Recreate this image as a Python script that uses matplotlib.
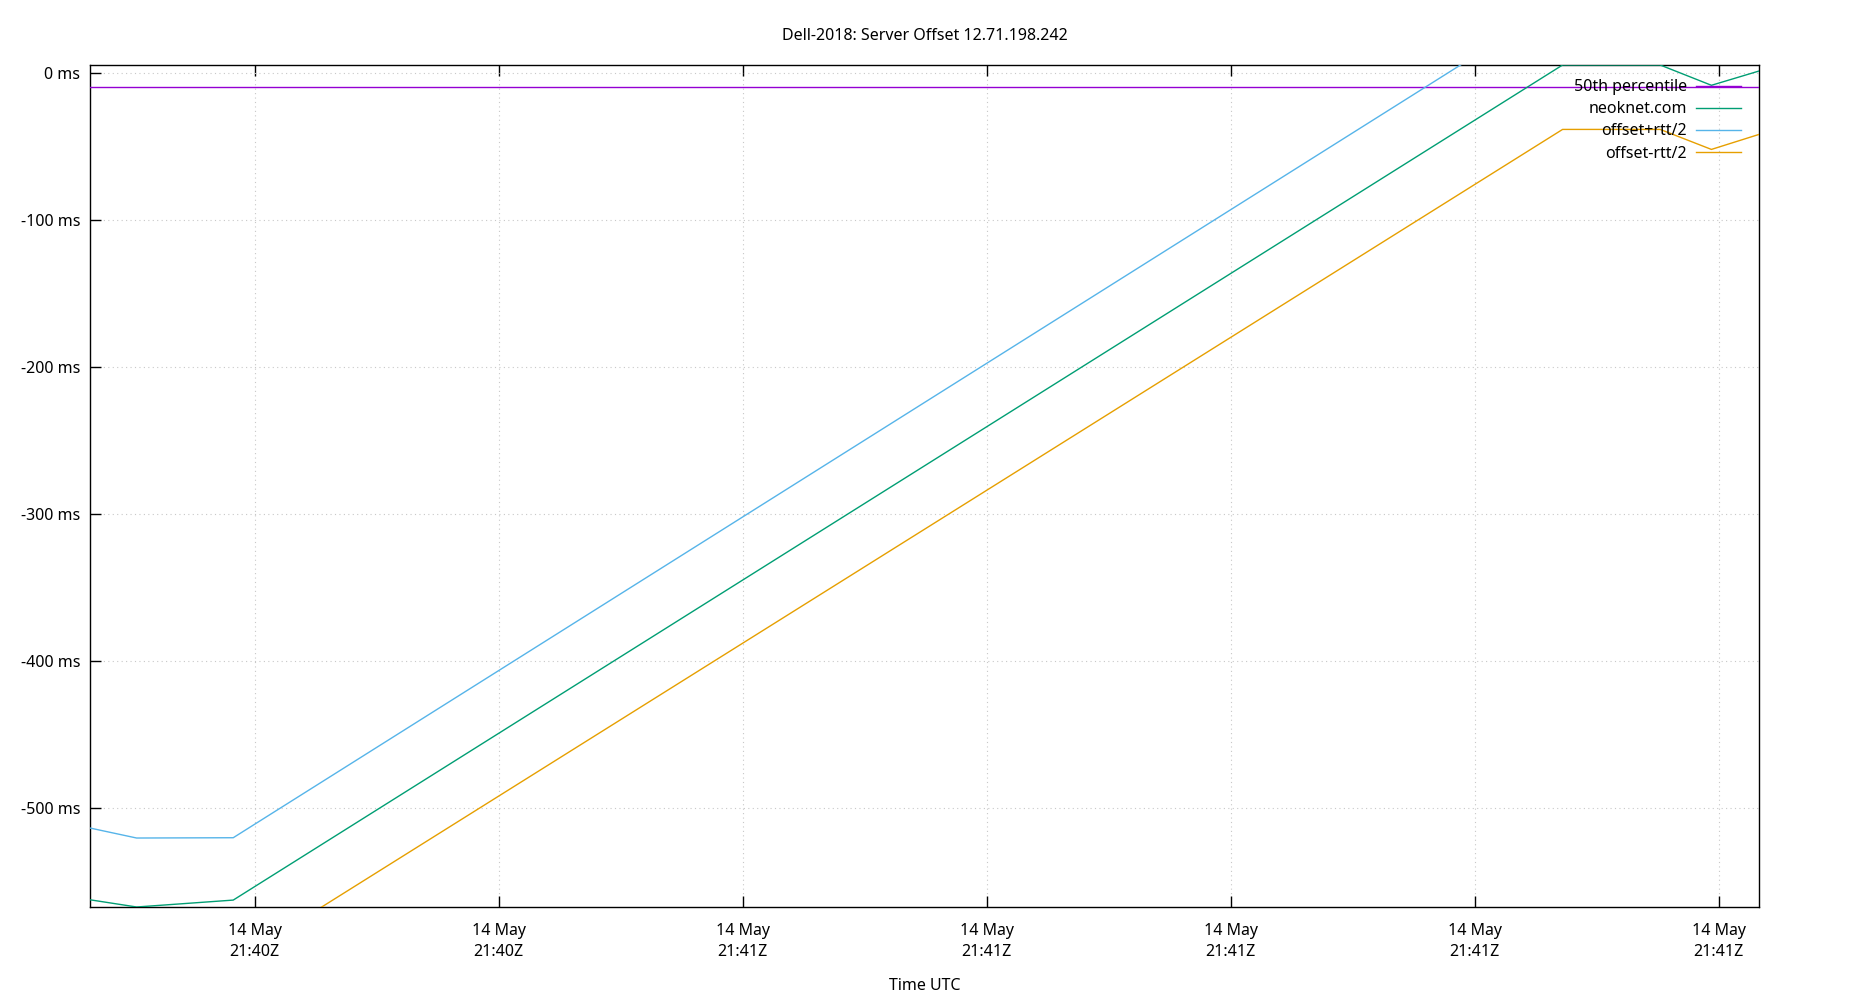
import matplotlib
matplotlib.use("Agg")
import matplotlib.pyplot as plt
import matplotlib.dates as mdates
from matplotlib.ticker import FuncFormatter, MultipleLocator
import numpy as np
import pandas as pd

plt.rcParams['font.family'] = ['Noto Sans', 'DejaVu Sans']

# ---- data ----
times = ["2018-05-14 21:40:33.25", "2018-05-14 21:40:35.16", "2018-05-14 21:40:39.12",
         "2018-05-14 21:41:33.60", "2018-05-14 21:41:37.60", "2018-05-14 21:41:39.70",
         "2018-05-14 21:41:41.65"]
offset_ms = [-562.4, -567.3, -562.6, 5.2, 5.2, -8.6, 1.1]
offset_plus_ms = [-513.6, -520.4, -520.2, 48.9, 48.9, 34.9, 44.4]
offset_minus_ms = [-611.2, -614.1, -605.0, -38.6, -38.6, -52.2, -42.0]
median_ms = -9.5
title = "Dell-2018: Server Offset 12.71.198.242"
server = "neoknet.com"

t = pd.to_datetime(times)
FS = 11.5

fig = plt.figure(figsize=(18.5, 10), dpi=100)
ax = fig.add_axes([90/1850, 1-907/1000, (1759-90)/1850, (907-65)/1000])

ax.axhline(median_ms, color="#9400d3", lw=1.0, label="50th percentile", zorder=3)
ax.plot(t, offset_ms, color="#009e73", lw=1.0, label=server, zorder=3)
ax.plot(t, offset_plus_ms, color="#56b4e9", lw=1.0, label="offset+rtt/2", zorder=3)
ax.plot(t, offset_minus_ms, color="#e69f00", lw=1.0, label="offset-rtt/2", zorder=3)

ax.set_xlim(t[0], t[-1])
ax.set_ylim(min(offset_ms), max(offset_ms))

ax.xaxis.set_major_locator(mdates.SecondLocator(bysecond=range(0, 60, 10)))
ax.xaxis.set_major_formatter(mdates.DateFormatter('%d %b\n%H:%MZ'))
ax.yaxis.set_major_locator(MultipleLocator(100))
ax.yaxis.set_major_formatter(FuncFormatter(lambda v, p: f"{int(round(v))} ms"))

ax.tick_params(direction='in', length=8, width=1, top=True, right=False,
               labelsize=FS, pad=7)
ax.tick_params(axis='x', pad=11.5)
fig.canvas.draw()
for lab in ax.get_xticklabels():
    lab.set_horizontalalignment('center')
    lab.set_linespacing(1.4)
ax.grid(True, color="#c8c8c8", ls=(0, (1, 3)), lw=0.8)
for s in ax.spines.values():
    s.set_linewidth(1.0)

ax.set_xlabel("Time UTC", fontsize=FS, labelpad=13)
ax.set_title(title, fontsize=FS, pad=18.3)

leg = ax.legend(loc='upper right', bbox_to_anchor=(0.9892, 0.983), frameon=False,
                markerfirst=False, fontsize=FS, handlelength=2.8, handletextpad=0.6,
                labelspacing=0.38, borderpad=0, borderaxespad=0)
leg.set_zorder(5)

fig.savefig("out.png", dpi=100)
